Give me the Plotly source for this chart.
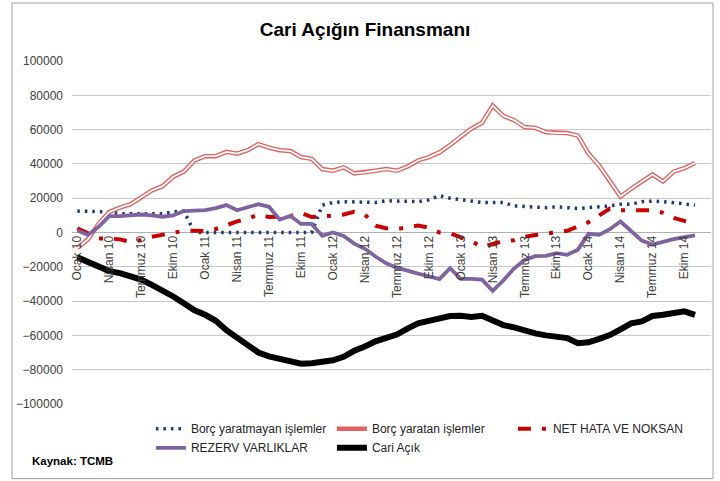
import plotly.graph_objects as go

month_names = ["Ocak", "Şubat", "Mart", "Nisan", "Mayıs", "Haziran",
               "Temmuz", "Ağustos", "Eylül", "Ekim", "Kasım", "Aralık"]
years = ["10", "11", "12", "13", "14"]
categories = [f"{m} {y}" for y in years for m in month_names]  # Ocak 10 .. Aralık 14
tick_labels = categories[::3]

borc_yaratmayan = [12500, 12500, 12500, 12000, 11000, 11000, 11000, 11000, 11000, 12000,
                   12500, 0, 0, 0, 0, 0, 0, 0, 0, 0,
                   0, 0, 0, 16000, 17500, 18000, 18000, 17500, 17500, 18500,
                   18500, 18500, 18000, 19000, 21500, 20000, 19000, 18500, 17500, 17500,
                   17500, 15500, 15000, 14500, 14500, 15000, 14500, 14000, 14500, 15000,
                   15500, 16500, 16500, 18000, 18300, 18000, 17300, 16500, 16000]

borc_yaratan = [-9000, -4000, 5000, 12000, 14500, 16500, 20500, 24500, 27000, 32500,
                35500, 42000, 44500, 44500, 47000, 46000, 48000, 51500, 49500, 48000,
                47500, 44000, 43000, 37000, 36000, 38000, 34500, 35000, 36000, 37000,
                36000, 38500, 42000, 44000, 46700, 51000, 56000, 60500, 64000, 74000,
                68000, 65500, 61500, 61000, 58500, 58000, 58000, 56500, 46000, 39000,
                30000, 21000, 25500, 29500, 33800, 29800, 35500, 37500, 40500]

net_hata = [2500, -500, -3500, -3500, -4000, -5500, -4500, -2500, -1500, -500,
            1000, 1000, 800, 2000, 4500, 6500, 8000, 10500, 9000, 9500,
            9500, 11500, 9000, 9300, 9700, 10500, 12000, 10500, 4000, 2500,
            2000, 3000, 4000, 2800, 0, -500, -2500, -5000, -8500, -6500,
            -5000, -4500, -2500, -1500, -700, -300, 1000, 3500, 6000, 10000,
            14000, 13000, 12800, 13000, 13000, 11500, 8500, 6500, 5000]

rezerv = [1200, -1400, 3300, 9500, 9500, 10000, 10500, 10000, 9200, 10000,
          12500, 12700, 13000, 14200, 16000, 13000, 14500, 16500, 15000, 7500,
          9700, 5000, 5000, -2000, 0, -2000, -6500, -9500, -14000, -18000,
          -20500, -22500, -24000, -25500, -27200, -20800, -27000, -27000, -27500, -34000,
          -28000, -21000, -16000, -13800, -13600, -12000, -13000, -10000, -800, -1400,
          1900, 6400, 500, -4700, -7000, -5200, -3900, -2700, -1700]

cari_acik = [-14500, -17000, -20000, -22500, -23700, -25200, -27500, -30500, -33500, -37300,
             -41200, -45400, -48000, -51500, -57000, -61000, -65500, -70000, -72200, -73500,
             -75500, -76500, -76200, -75300, -74500, -72500, -69000, -66500, -63500, -61500,
             -59500, -56000, -53000, -51500, -50000, -48700, -48600, -49300, -48600, -51500,
             -54000, -55300, -57500, -58800, -60000, -61000, -61600, -64500, -64000, -62000,
             -59800, -56500, -53000, -51800, -48700, -48000, -47000, -46000, -48000]

x = categories[:len(cari_acik)]
FONT = "Liberation Sans, Arial, sans-serif"

fig = go.Figure()
fig.add_trace(go.Scatter(x=x, y=borc_yaratmayan, mode="lines", name="Borç yaratmayan işlemler",
                         line=dict(color="#1F3A70", width=3.5, dash="2.5px,5px")))
fig.add_trace(go.Scatter(x=x, y=borc_yaratan, mode="lines", name="Borç yaratan işlemler",
                         legendgroup="by",
                         line=dict(color="#E06262", width=4.5)))
fig.add_trace(go.Scatter(x=x, y=borc_yaratan, mode="lines", name="Borç yaratan işlemler",
                         legendgroup="by", showlegend=False,
                         line=dict(color="white", width=1.8)))
fig.add_trace(go.Scatter(x=x, y=net_hata, mode="lines", name="NET HATA VE NOKSAN",
                         line=dict(color="#CC0000", width=4, dash="13px,11px,4px,11px")))
fig.add_trace(go.Scatter(x=x, y=rezerv, mode="lines", name="REZERV VARLIKLAR",
                         line=dict(color="#8064A2", width=3.8)))
fig.add_trace(go.Scatter(x=x, y=cari_acik, mode="lines", name="Cari Açık",
                         line=dict(color="black", width=6)))

fig.update_layout(
    width=720, height=481,
    margin=dict(l=72, r=9, t=61, b=77),
    paper_bgcolor="white", plot_bgcolor="white",
    font=dict(family=FONT, size=12, color="#404040"),
    title=dict(text="<b>Cari Açığın Finansmanı</b>", x=0.507, xanchor="center",
               y=1 - 29 / 481, yanchor="middle",
               font=dict(family=FONT, size=19, color="black")),
    showlegend=True,
    legend=dict(orientation="h", x=0.1235, xanchor="left", y=-0.030, yanchor="top",
                entrywidth=136, font=dict(family=FONT, size=12, color="#262626"),
                bgcolor="rgba(0,0,0,0)", traceorder="normal"),
    xaxis=dict(type="category", categoryorder="array", categoryarray=categories,
               range=[-0.5, len(categories) - 0.5],
               tickmode="array", tickvals=tick_labels, ticktext=tick_labels,
               tickangle=-90, showgrid=False, showline=False, zeroline=False,
               anchor="free", position=0.5, ticks="",
               tickfont=dict(family=FONT, size=12, color="#404040")),
    yaxis=dict(range=[-100000, 100000], tickvals=list(range(-100000, 100001, 20000)),
               tickformat="d", showgrid=True, gridcolor="#C8C8C8", gridwidth=1,
               zeroline=True, zerolinecolor="#B0B0B0", zerolinewidth=1,
               showline=False, ticks="", ticklabelstandoff=8,
               tickfont=dict(family=FONT, size=12, color="#404040")),
    annotations=[dict(text="<b>Kaynak: TCMB</b>", xref="paper", yref="paper",
                      x=-0.066, y=-0.165, xanchor="left", yanchor="middle", showarrow=False,
                      font=dict(family=FONT, size=11.5, color="black"))],
    shapes=[dict(type="rect", xref="paper", yref="paper",
                 x0=(12 - 72) / 639, x1=(713 - 72) / 639,
                 y0=(404.3 - 479) / 343.3, y1=(404.3 - 3) / 343.3,
                 line=dict(color="#A0A0A0", width=1), fillcolor="rgba(0,0,0,0)",
                 layer="below")],
)

fig.write_html("out.html", config={"displayModeBar": False},
               post_script="document.body.style.margin='0px';")
